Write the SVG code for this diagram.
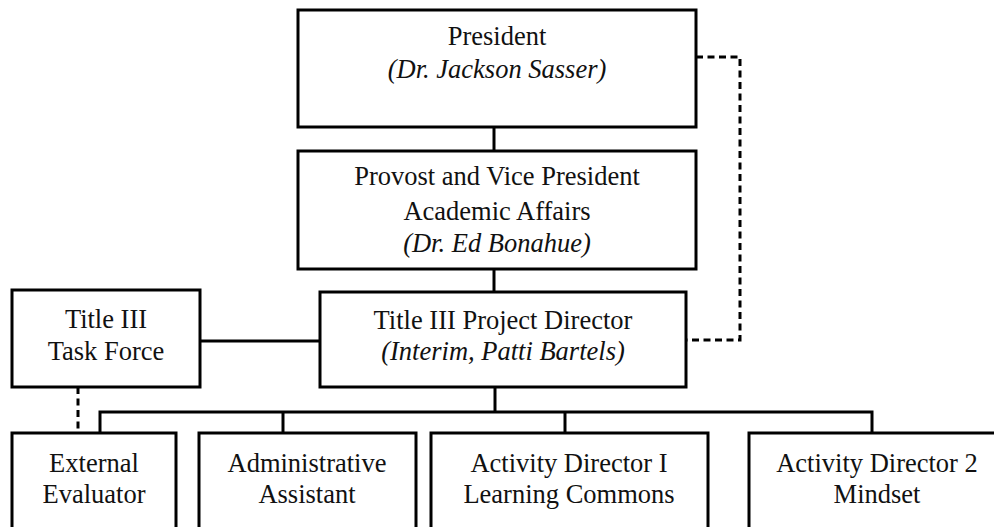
<svg xmlns="http://www.w3.org/2000/svg" width="994" height="527" viewBox="0 0 994 527">
<style>
.box{fill:#fff;stroke:#000;stroke-width:3}
.ln{fill:none;stroke:#000;stroke-width:3}
.dash{fill:none;stroke:#000;stroke-width:3;stroke-dasharray:7 4.5}
text{font-family:"Liberation Serif","Times New Roman",serif;font-size:26.5px;fill:#111;text-anchor:middle}
.it{font-style:italic}
</style>
<rect width="994" height="527" fill="#fff"/>
<g id="connectors">
<line class="ln" x1="494" y1="127" x2="494" y2="151"/>
<line class="ln" x1="494" y1="269" x2="494" y2="292"/>
<line class="ln" x1="200" y1="341" x2="320" y2="341"/>
<line class="ln" x1="495" y1="387" x2="495" y2="412"/>
<polyline class="ln" points="100,433 100,412 872,412 872,433"/>
<line class="ln" x1="283" y1="412" x2="283" y2="433"/>
<line class="ln" x1="565" y1="412" x2="565" y2="433"/>
<polyline class="dash" points="696,57 740,57 740,340 686,340"/>
<line class="dash" x1="78" y1="387" x2="78" y2="433"/>
</g>
<g id="president">
<rect class="box" x="298" y="10" width="398" height="117"/>
<text x="497" y="45">President</text>
<text class="it" x="497" y="78">(Dr. Jackson Sasser)</text>
</g>
<g id="provost">
<rect class="box" x="298" y="151" width="398" height="118"/>
<text x="497" y="185">Provost and Vice President</text>
<text x="497" y="220">Academic Affairs</text>
<text class="it" x="497" y="252">(Dr. Ed Bonahue)</text>
</g>
<g id="project-director">
<rect class="box" x="320" y="292" width="366" height="95"/>
<text x="503" y="329">Title III Project Director</text>
<text class="it" x="503" y="360">(Interim, Patti Bartels)</text>
</g>
<g id="task-force">
<rect class="box" x="12" y="290" width="188" height="97"/>
<text x="106" y="328">Title III</text>
<text x="106" y="360">Task Force</text>
</g>
<g id="external-evaluator">
<rect class="box" x="12" y="433" width="164" height="110"/>
<text x="94" y="472">External</text>
<text x="94" y="503">Evaluator</text>
</g>
<g id="administrative-assistant">
<rect class="box" x="199" y="433" width="217" height="110"/>
<text x="307" y="472">Administrative</text>
<text x="307" y="503">Assistant</text>
</g>
<g id="activity-director-1">
<rect class="box" x="431" y="433" width="277" height="110"/>
<text x="569" y="472">Activity Director I</text>
<text x="569" y="503">Learning Commons</text>
</g>
<g id="activity-director-2">
<rect class="box" x="749" y="433" width="257" height="110"/>
<text x="877" y="472">Activity Director 2</text>
<text x="877" y="503">Mindset</text>
</g>
</svg>
